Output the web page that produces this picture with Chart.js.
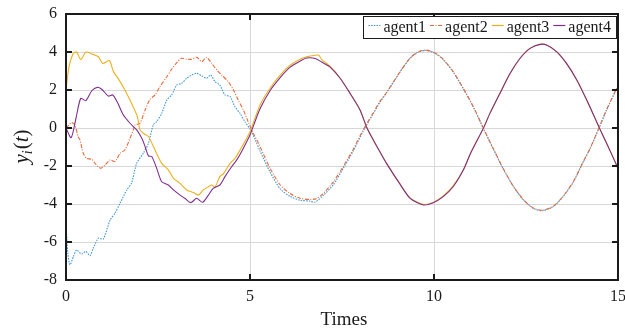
<!DOCTYPE html>
<html><head><meta charset="utf-8">
<script src="https://cdn.jsdelivr.net/npm/chart.js@4.4.0/dist/chart.umd.min.js"></script>
<style>html,body{margin:0;padding:0;background:#fff;}canvas{display:block;}</style>
</head><body>
<canvas id="c" width="625" height="331"></canvas>
<script>
const seriesLabels = ['agent1','agent2','agent3','agent4'];
const xTickValues = [0,5,10,15];
const yTickValues = [-8,-6,-4,-2,0,2,4,6];
const xTitle = 'Times';

const t1 = [0,0.05,0.11,0.2,0.29,0.42,0.54,0.65,0.74,0.88,1.01,1.2,1.33,1.47,1.65,1.78,1.92,2.1,2.24,2.37,2.46,2.6,2.74,2.87,3.01,3.14,3.28,3.42,3.55,3.69,3.82,3.93,4.05,4.18,4.32,4.46,4.59,4.73,4.86,5.0,5.14,5.27,5.54,5.82,6.09,6.36,6.63,6.77,6.99,7.26,7.54,7.81,8.08,8.35,8.53,8.71,9.08,9.35,9.58,9.8,10.03,10.25,10.52,10.8,11.07,11.34,11.61,11.88,12.16,12.43,12.7,12.95,13.24,13.51,13.79,14.06,14.24,14.49,14.69,14.96,15];
const y1 = [-5.0,-6.6,-7.2,-6.77,-6.42,-6.63,-6.5,-6.72,-6.33,-5.8,-5.85,-4.84,-4.49,-3.96,-3.26,-2.91,-1.86,-1.33,-0.8,0.16,0.33,0.77,1.47,1.74,2.26,2.35,2.62,2.79,2.88,2.74,2.62,2.79,2.44,2.26,1.74,1.65,1.12,0.77,0.33,-0.05,-0.6,-1.2,-2.3,-3.2,-3.6,-3.8,-3.85,-3.9,-3.55,-3.0,-2.1,-1.2,-0.15,0.75,1.35,1.85,2.95,3.67,4.0,4.08,3.93,3.6,2.95,2.05,1.1,-0.02,-1.1,-2.15,-3.09,-3.79,-4.23,-4.35,-4.14,-3.61,-2.83,-1.77,-1.1,0.02,0.95,2.05,2.22];

const t2 = [0,0.15,0.24,0.33,0.38,0.47,0.56,0.7,0.79,0.94,1.06,1.2,1.33,1.47,1.6,1.74,1.83,1.88,2.01,2.15,2.28,2.42,2.55,2.74,2.87,3.01,3.14,3.28,3.42,3.55,3.69,3.82,3.96,4.1,4.23,4.41,4.55,4.68,4.82,4.95,5.09,5.23,5.54,5.82,6.09,6.36,6.63,6.8,6.99,7.26,7.54,7.81,8.08,8.35,8.53,8.71,9.08,9.35,9.58,9.8,10.03,10.25,10.52,10.8,11.07,11.34,11.61,11.88,12.16,12.43,12.7,12.95,13.24,13.51,13.79,14.06,14.24,14.49,14.69,14.96,15];
const y2 = [0,0.28,0.16,-0.46,-0.63,-1.33,-1.6,-1.65,-1.86,-2.12,-1.95,-1.68,-1.77,-1.33,-1.16,-0.54,-0.1,0.16,0.25,0.95,1.5,1.74,2.17,2.7,3.09,3.44,3.67,3.62,3.62,3.72,3.49,3.72,3.4,3.05,2.79,2.44,2.0,1.47,0.95,0.33,-0.28,-0.8,-2.1,-3.0,-3.45,-3.7,-3.76,-3.72,-3.45,-2.85,-2.0,-1.1,-0.08,0.8,1.4,1.87,2.97,3.68,4.02,4.1,3.95,3.62,2.97,2.07,1.12,0.0,-1.08,-2.13,-3.07,-3.77,-4.21,-4.33,-4.12,-3.59,-2.81,-1.75,-1.08,0.04,0.97,2.07,2.24];

const t3 = [0,0.08,0.2,0.29,0.4,0.54,0.7,0.88,1.0,1.18,1.29,1.42,1.6,1.78,1.94,2.01,2.12,2.24,2.42,2.6,2.78,2.92,3.1,3.28,3.46,3.6,3.73,3.87,3.96,4.05,4.18,4.28,4.46,4.59,4.73,4.91,5.0,5.27,5.54,5.82,6.09,6.36,6.54,6.86,6.95,7.17,7.45,7.72,7.99,8.17,8.35,8.53,8.71,9.08,9.35,9.71,9.98,10.25,10.52,10.8,11.0,11.34,11.52,11.79,12.07,12.34,12.61,12.88,13.06,13.33,13.6,13.88,14.15,14.49,14.69,14.96,15];
const y3 = [2.0,3.2,3.93,4.0,3.6,4.0,3.9,3.75,3.4,3.55,2.96,2.6,2.0,1.3,0.6,-0.1,-0.3,-0.45,-1.16,-1.86,-2.2,-2.65,-2.91,-3.26,-3.4,-3.53,-3.26,-3.09,-3.0,-3.1,-2.56,-2.4,-1.86,-1.6,-1.16,-0.54,-0.2,1.2,2.08,2.78,3.3,3.62,3.75,3.84,3.6,3.25,2.62,1.82,0.95,0.04,-0.63,-1.25,-1.86,-2.95,-3.68,-4.02,-3.92,-3.58,-3.05,-2.2,-1.3,-0.02,0.77,1.82,2.88,3.67,4.19,4.4,4.37,4.02,3.4,2.53,1.47,0.02,-0.8,-1.95,-2.15];

const t4 = [0,0.14,0.27,0.4,0.54,0.7,0.85,0.97,1.15,1.27,1.39,1.56,1.74,1.92,2.06,2.15,2.24,2.33,2.46,2.6,2.78,2.92,3.1,3.23,3.39,3.55,3.71,3.87,4.0,4.18,4.32,4.5,4.64,4.77,4.91,5.0,5.27,5.54,5.82,6.09,6.36,6.54,6.77,6.95,7.17,7.45,7.72,7.99,8.17,8.35,8.53,8.71,9.08,9.35,9.71,9.98,10.25,10.52,10.8,11.0,11.34,11.52,11.79,12.07,12.34,12.61,12.88,13.06,13.33,13.6,13.88,14.15,14.49,14.69,14.96,15];
const y4 = [0,-0.51,0.5,1.56,1.44,1.96,2.14,2.04,1.68,1.74,1.38,0.68,0.25,-0.1,-0.54,-0.98,-1.47,-1.5,-2.1,-2.83,-3.0,-3.26,-3.53,-3.7,-3.93,-3.7,-3.91,-3.53,-3.18,-3.0,-2.56,-2.04,-1.68,-1.25,-0.72,-0.37,1.0,1.95,2.65,3.2,3.52,3.68,3.66,3.47,3.22,2.62,1.82,0.95,0.04,-0.63,-1.25,-1.86,-2.97,-3.7,-4.05,-3.93,-3.61,-3.09,-2.2,-1.3,-0.02,0.77,1.82,2.88,3.67,4.19,4.4,4.37,4.02,3.4,2.53,1.47,0.02,-0.8,-1.95,-2.15];

const pairs = (t, y) => t.map((v, i) => ({x: v, y: y[i]}));
const SERIF = '"Liberation Serif", "Times New Roman", serif';
const INK = '#1a1a1a';

const styles = [
  {color: '#3f95d8', dash: [1.5, 1.2]},
  {color: '#e8693a', dash: [4, 1.5, 1, 1.5]},
  {color: '#EDB120', dash: []},
  {color: '#7E2F8E', dash: []}
];
const allData = [pairs(t1,y1), pairs(t2,y2), pairs(t3,y3), pairs(t4,y4)];

const frameAndDecor = {
  id: 'frameAndDecor',
  afterDatasetsDraw(chart) {
    const ctx = chart.ctx, a = chart.chartArea;
    const xs = chart.scales.x, ys = chart.scales.y;
    ctx.save();
    ctx.strokeStyle = INK; ctx.lineWidth = 2;
    ctx.beginPath();
    xTickValues.forEach(v => {
      const px = Math.round(xs.getPixelForValue(v));
      ctx.moveTo(px, a.bottom); ctx.lineTo(px, a.bottom - 6);
      ctx.moveTo(px, a.top); ctx.lineTo(px, a.top + 6);
    });
    yTickValues.forEach(v => {
      const py = Math.round(ys.getPixelForValue(v));
      ctx.moveTo(a.left, py); ctx.lineTo(a.left + 6, py);
      ctx.moveTo(a.right, py); ctx.lineTo(a.right - 6, py);
    });
    ctx.stroke();
    ctx.lineWidth = 2;
    ctx.strokeRect(a.left, a.top, a.right - a.left, a.bottom - a.top);

    // legend box
    ctx.font = '16px ' + SERIF;
    const widths = seriesLabels.map(s => ctx.measureText(s).width);
    const lineLen = 12, gap1 = 3, gap2 = 4, padL = 5, padR = 5;
    let total = padL + padR;
    widths.forEach((w, i) => { total += lineLen + gap1 + w + (i < widths.length - 1 ? gap2 : 0); });
    const boxRight = a.right - 2, boxTop = a.top + 2, boxH = 22;
    const boxLeft = boxRight - total;
    ctx.fillStyle = '#fff';
    ctx.fillRect(boxLeft, boxTop, total, boxH);
    ctx.lineWidth = 1; ctx.strokeStyle = INK;
    ctx.strokeRect(Math.round(boxLeft) + 0.5, boxTop + 0.5, Math.round(total), boxH);
    let x = boxLeft + padL;
    const midY = boxTop + boxH / 2;
    ctx.textBaseline = 'middle'; ctx.textAlign = 'left';
    seriesLabels.forEach((s, i) => {
      ctx.strokeStyle = styles[i].color; ctx.lineWidth = 1.2;
      ctx.setLineDash(styles[i].dash);
      ctx.beginPath(); ctx.moveTo(x, midY - 1.5); ctx.lineTo(x + lineLen, midY - 1.5); ctx.stroke();
      ctx.setLineDash([]);
      x += lineLen + gap1;
      ctx.fillStyle = INK;
      ctx.fillText(s, x, midY + 1);
      x += widths[i] + gap2;
    });

    // x title
    ctx.font = '19px ' + SERIF;
    ctx.textAlign = 'center'; ctx.textBaseline = 'middle';
    ctx.fillText(xTitle, (a.left + a.right) / 2 + 2, 320);

    // y title: y_i(t), rotated
    ctx.translate(21, (a.top + a.bottom) / 2);
    ctx.rotate(-Math.PI / 2);
    const parts = [
      {s: 'y', f: 'italic 21px ' + SERIF, dy: 0},
      {s: 'i', f: 'italic 14px ' + SERIF, dy: 4},
      {s: '(', f: '21px ' + SERIF, dy: 0},
      {s: 't', f: 'italic 21px ' + SERIF, dy: 0},
      {s: ')', f: '21px ' + SERIF, dy: 0}
    ];
    let tw = 0;
    parts.forEach(p => { ctx.font = p.f; p.w = ctx.measureText(p.s).width; tw += p.w; });
    let cx = -tw / 2;
    ctx.textAlign = 'left'; ctx.textBaseline = 'alphabetic';
    parts.forEach(p => { ctx.font = p.f; ctx.fillText(p.s, cx, 7 + p.dy); cx += p.w + (p.s === 'i' ? 1 : 0); });
    ctx.restore();
  }
};

new Chart(document.getElementById('c'), {
  type: 'line',
  data: {
    datasets: seriesLabels.map((lab, i) => ({
      label: lab,
      data: allData[i],
      borderColor: styles[i].color,
      backgroundColor: styles[i].color,
      borderWidth: 1.1,
      borderDash: styles[i].dash,
      pointRadius: 0,
      fill: false,
      tension: 0.25,
      order: 3 - i
    }))
  },
  options: {
    responsive: false,
    animation: false,
    layout: {padding: {left: 0, right: 7, top: 14, bottom: 0}},
    plugins: {legend: {display: false}, tooltip: {enabled: false}},
    scales: {
      x: {
        type: 'linear', min: 0, max: 15,
        afterBuildTicks: s => { s.ticks = xTickValues.map(v => ({value: v})); },
        afterFit: s => { s.height = 51; s.paddingLeft = 0; s.paddingRight = 0; },
        ticks: {font: {family: SERIF, size: 16}, color: INK, padding: 7, maxRotation: 0},
        grid: {color: '#d8d8d8', lineWidth: 1, drawTicks: false},
        border: {display: false}
      },
      y: {
        type: 'linear', min: -8, max: 6,
        afterBuildTicks: s => { s.ticks = yTickValues.map(v => ({value: v})); },
        afterFit: s => { s.width = 66; s.paddingTop = 0; s.paddingBottom = 0; },
        ticks: {font: {family: SERIF, size: 16}, color: INK, padding: 9},
        grid: {color: '#d8d8d8', lineWidth: 1, drawTicks: false},
        border: {display: false}
      }
    }
  },
  plugins: [frameAndDecor]
});
</script>
</body></html>
